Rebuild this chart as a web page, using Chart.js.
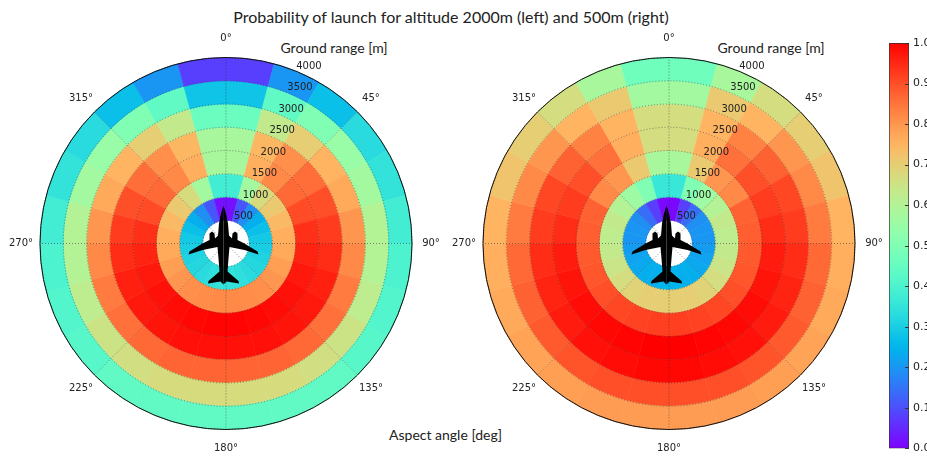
<!DOCTYPE html>
<html>
<head>
<meta charset="utf-8">
<title>Probability of launch</title>
<script src="https://cdn.jsdelivr.net/npm/chart.js@4/dist/chart.umd.min.js"></script>
<style>
    html, body { margin: 0; padding: 0; background: #fff; overflow: hidden; }
    body { position: relative; width: 927px; height: 459px; }
    canvas { position: absolute; }
    .txt { position: absolute; font-family: Lato, sans-serif; color: #222; white-space: nowrap; transform: translateX(-50%); }
</style>
</head>
<body>
<div class="txt" style="left:451px;top:7px;font-size:16px">Probability of launch for altitude 2000m (left) and 500m (right)</div>
<div class="txt" style="left:334px;top:39px;font-size:14px">Ground range [m]</div>
<div class="txt" style="left:771px;top:39px;font-size:14px">Ground range [m]</div>
<div class="txt" style="left:445.5px;top:426px;font-size:14px">Aspect angle [deg]</div>
<canvas id="polarLeft"></canvas>
<canvas id="polarRight"></canvas>
<canvas id="colorBar"></canvas>
<script>
// Sectores de 15 grados, desde 0 en sentido horario
const sectors = [0, 15, 30, 45, 60, 75, 90, 105, 120, 135, 150, 165, 180, 195, 210, 225, 240, 255, 270, 285, 300, 315, 330, 345];
const rangeTicks = [500, 1000, 1500, 2000, 2500, 3000, 3500, 4000];
const angleTicks = [0, 45, 90, 135, 180, 225, 270, 315];
const barTicks = [0, 0.1, 0.2, 0.3, 0.4, 0.5, 0.6, 0.7, 0.8, 0.9, 1];

// Altitud 2000 m (izquierda)
const left1000 = [.02, .11, .19, .24, .27, .29, .30, .31, .32, .33, .34, .35, .35, .34, .33, .32, .31, .30, .29, .27, .24, .19, .11, .02];
const left1500 = [.38, .57, .67, .71, .74, .76, .77, .785, .80, .81, .815, .82, .82, .815, .81, .80, .785, .77, .76, .74, .71, .67, .57, .38];
const left2000 = [.58, .76, .82, .865, .905, .94, .955, .97, .98, .985, .99, .995, .995, .99, .985, .98, .97, .955, .94, .905, .865, .82, .76, .58];
const left2500 = [.58, .745, .81, .86, .90, .925, .945, .96, .97, .975, .98, .98, .98, .98, .975, .97, .96, .945, .925, .90, .86, .81, .745, .58];
const left3000 = [.46, .63, .70, .75, .77, .80, .82, .84, .855, .865, .87, .87, .87, .87, .865, .855, .84, .82, .80, .77, .75, .70, .63, .46];
const left3500 = [.28, .44, .50, .55, .57, .60, .60, .62, .65, .66, .67, .67, .67, .67, .66, .65, .62, .60, .60, .57, .55, .50, .44, .28];
const left4000 = [.08, .20, .27, .33, .35, .38, .40, .41, .42, .44, .44, .44, .44, .44, .44, .42, .41, .40, .38, .35, .33, .27, .20, .08];

// Altitud 500 m (derecha)
const right1000 = [.01, .08, .14, .19, .20, .20, .21, .22, .23, .24, .24, .25, .25, .24, .24, .23, .22, .21, .20, .20, .19, .14, .08, .01];
const right1500 = [.36, .50, .56, .60, .63, .62, .63, .645, .665, .69, .70, .70, .70, .70, .69, .665, .645, .63, .62, .63, .60, .56, .50, .36];
const right2000 = [.58, .71, .80, .82, .875, .88, .885, .89, .90, .91, .915, .92, .92, .915, .91, .90, .89, .885, .88, .875, .82, .80, .71, .58];
const right2500 = [.665, .76, .855, .90, .925, .945, .965, .975, .985, .99, .995, 1, 1, .995, .99, .985, .975, .965, .945, .925, .90, .855, .76, .665];
const right3000 = [.665, .75, .83, .875, .91, .925, .945, .955, .965, .98, .985, .99, .99, .985, .98, .965, .955, .945, .925, .91, .875, .83, .75, .665];
const right3500 = [.57, .71, .75, .80, .82, .84, .865, .875, .885, .895, .90, .90, .90, .90, .895, .885, .875, .865, .84, .82, .80, .75, .71, .57];
const right4000 = [.47, .58, .665, .70, .72, .75, .76, .77, .78, .785, .79, .79, .79, .79, .785, .78, .77, .76, .75, .72, .70, .665, .58, .47];

const ringsLeft = [left4000, left3500, left3000, left2500, left2000, left1500, left1000];
const ringsRight = [right4000, right3500, right3000, right2500, right2000, right1500, right1000];

const tickFont = "10px 'DejaVu Sans'";
const inkColor = '#222';

// Mapa de color rainbow de matplotlib
function rainbow(v) {
    const r = Math.min(1, Math.abs(2 * v - 0.5));
    const g = Math.sin(Math.PI * v);
    const b = Math.cos(Math.PI * v / 2);
    return `rgb(${Math.round(r * 255)},${Math.round(g * 255)},${Math.round(b * 255)})`;
}

// Silueta del avion, relativa al centro del polar
function drawPlane(ctx, x, y) {
    ctx.save();
    ctx.translate(x - 2.5, y);
    ctx.fillStyle = '#000';
    for (const side of [1, -1]) {
        ctx.beginPath();
        ctx.moveTo(0, -38);
        ctx.lineTo(side * 2.5, -30);
        ctx.lineTo(side * 4.5, -20);
        ctx.lineTo(side * 5.5, -8);
        ctx.lineTo(side * 8.5, -5);
        ctx.lineTo(side * 9, -10);
        ctx.lineTo(side * 11.5, -12);
        ctx.lineTo(side * 14, -10);
        ctx.lineTo(side * 14, -3.5);
        ctx.lineTo(side * 21, 0);
        ctx.lineTo(side * 34, 8);
        ctx.lineTo(side * 35, 11);
        ctx.lineTo(side * 21, 6.5);
        ctx.lineTo(side * 6, 3.5);
        ctx.lineTo(side * 5, 15);
        ctx.lineTo(side * 4, 28);
        ctx.lineTo(side * 15, 37.5);
        ctx.lineTo(side * 15.5, 40);
        ctx.lineTo(side * 3, 38);
        ctx.lineTo(0, 41);
        ctx.closePath();
        ctx.fill();
    }
    ctx.restore();
}

// Rejilla punteada, etiquetas y avion encima de los anillos
const polarDecor = {
    id: 'polarDecor',
    afterDatasetsDraw(chart) {
        const ctx = chart.ctx;
        const arc = chart.getDatasetMeta(0).data[0];
        const cx = arc.x, cy = arc.y, R = arc.outerRadius;
        const maxRange = rangeTicks[rangeTicks.length - 1];

        ctx.save();
        ctx.strokeStyle = 'rgba(40,40,40,0.65)';
        ctx.lineWidth = 0.8;
        ctx.setLineDash([1, 2]);
        for (const t of rangeTicks) {
            ctx.beginPath();
            ctx.arc(cx, cy, R * t / maxRange, 0, Math.PI * 2);
            ctx.stroke();
        }
        for (const a of angleTicks) {
            const rad = a * Math.PI / 180;
            ctx.beginPath();
            ctx.moveTo(cx, cy);
            ctx.lineTo(cx + R * Math.sin(rad), cy - R * Math.cos(rad));
            ctx.stroke();
        }
        ctx.setLineDash([]);
        ctx.strokeStyle = '#111';
        ctx.lineWidth = 1;
        ctx.beginPath();
        ctx.arc(cx, cy, R, 0, Math.PI * 2);
        ctx.stroke();

        drawPlane(ctx, cx, cy);

        ctx.fillStyle = inkColor;
        ctx.font = tickFont;
        ctx.textAlign = 'center';
        ctx.textBaseline = 'middle';
        for (const a of angleTicks) {
            const rad = a * Math.PI / 180;
            ctx.fillText(a + '°', cx + (R + 19) * Math.sin(rad), cy - (R + 19) * Math.cos(rad));
        }
        ctx.textAlign = 'left';
        const labelAngle = 22.5 * Math.PI / 180;
        for (const t of rangeTicks) {
            const r = R * t / maxRange;
            ctx.fillText(String(t), cx + r * Math.sin(labelAngle) - 1, cy - r * Math.cos(labelAngle) - 5.5);
        }
        ctx.restore();
    }
};

function polarChart(id, rings, centerX, centerY, radius) {
    const canvas = document.getElementById(id);
    const left = centerX - 225, top = 20, w = 450, h = 439;
    canvas.style.left = left + 'px';
    canvas.style.top = top + 'px';
    canvas.style.width = w + 'px';
    canvas.style.height = h + 'px';
    canvas.width = w;
    canvas.height = h;

    return new Chart(canvas.getContext('2d'), {
        type: 'doughnut',
        data: {
            labels: sectors,
            datasets: rings.map(ring => {
                const colors = ring.map(rainbow);
                return {
                    data: sectors.map(() => 1),
                    backgroundColor: colors,
                    borderColor: colors,
                    borderWidth: 0.6,
                    borderAlign: 'center'
                };
            })
        },
        options: {
            responsive: false,
            animation: false,
            events: [],
            cutout: '12.5%',
            rotation: 0,
            layout: {
                padding: {
                    left: 225 - radius,
                    right: 225 - radius,
                    top: centerY - top - radius,
                    bottom: h - (centerY - top) - radius
                }
            },
            plugins: { legend: { display: false }, tooltip: { enabled: false } }
        },
        plugins: [polarDecor]
    });
}

polarChart('polarLeft', ringsLeft, 225.8, 243.5, 186.3);
polarChart('polarRight', ringsRight, 669.3, 243.5, 186.3);

// Ticks hacia adentro de la barra de color
const barTickMarks = {
    id: 'barTickMarks',
    afterDraw(chart) {
        const ctx = chart.ctx, y = chart.scales.y, a = chart.chartArea;
        ctx.save();
        ctx.strokeStyle = '#333';
        ctx.lineWidth = 1;
        for (const t of barTicks) {
            const py = Math.round(y.getPixelForValue(t)) + 0.5;
            ctx.beginPath();
            ctx.moveTo(a.right - 4, py);
            ctx.lineTo(a.right, py);
            ctx.stroke();
        }
        ctx.restore();
    }
};

const barCanvas = document.getElementById('colorBar');
barCanvas.style.left = '880px';
barCanvas.style.top = '30px';
barCanvas.style.width = '47px';
barCanvas.style.height = '429px';
barCanvas.width = 47;
barCanvas.height = 429;

new Chart(barCanvas.getContext('2d'), {
    type: 'bar',
    data: {
        labels: ['p'],
        datasets: [{
            data: [[0, 1]],
            barPercentage: 1,
            categoryPercentage: 1,
            borderColor: '#333',
            borderWidth: 1,
            borderSkipped: false,
            backgroundColor(c) {
                const a = c.chart.chartArea;
                if (!a) return '#000';
                const g = c.chart.ctx.createLinearGradient(0, a.bottom, 0, a.top);
                for (let i = 0; i <= 50; i++) {
                    g.addColorStop(i / 50, rainbow(i / 50));
                }
                return g;
            }
        }]
    },
    options: {
        responsive: false,
        animation: false,
        events: [],
        layout: { padding: { left: 9, right: 0, top: 13, bottom: 2 } },
        plugins: { legend: { display: false }, tooltip: { enabled: false } },
        scales: {
            x: { display: false },
            y: {
                position: 'right',
                min: 0,
                max: 1,
                afterFit(scale) { scale.width = 18; },
                grid: { display: false, drawTicks: false },
                border: { display: false },
                afterBuildTicks(scale) { scale.ticks = barTicks.map(v => ({ value: v })); },
                ticks: {
                    autoSkip: false,
                    padding: 4,
                    color: inkColor,
                    font: { family: "'DejaVu Sans'", size: 11 },
                    callback: v => v.toFixed(1)
                }
            }
        }
    },
    plugins: [barTickMarks]
});
</script>
</body>
</html>
